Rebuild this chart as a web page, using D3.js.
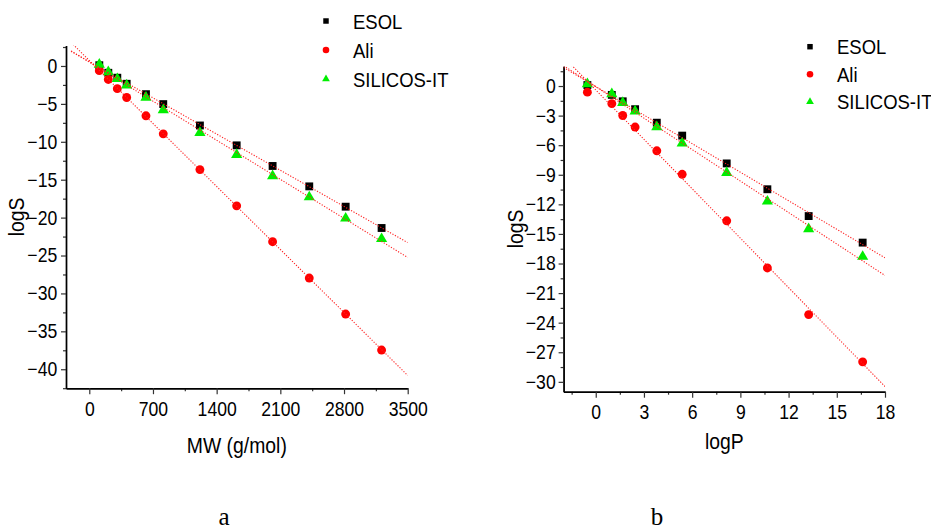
<!DOCTYPE html>
<html>
<head>
<meta charset="utf-8">
<script src="https://cdn.jsdelivr.net/npm/d3@7"></script>
<style>
  html, body { margin: 0; padding: 0; background: #fff; }
  svg { display: block; font-family: "Liberation Sans", Arial, sans-serif; }
</style>
</head>
<body>
<svg id="chart" width="931" height="531"></svg>
<script>
// Molecular weight of each compound (g/mol)
const mw = [110, 209, 308, 411, 623, 813, 1216, 1620, 2015, 2418, 2818, 3213];
// Partition coefficient of the first ten compounds
const logP = [-0.52, 1.0, 1.68, 2.45, 3.8, 5.38, 8.15, 10.68, 13.25, 16.61];

// Predicted solubility (logS) by each method
const esol    = [0.1, -0.9, -1.55, -2.35, -3.72, -5.03, -7.85, -10.47, -13.19, -15.88, -18.56, -21.37];
const ali     = [-0.62, -1.78, -2.99, -4.16, -6.57, -8.95, -13.67, -18.45, -23.18, -27.97, -32.72, -37.47];
const silicos = [0.2, -0.8, -1.7, -2.55, -4.15, -5.8, -8.8, -11.7, -14.5, -17.3, -20.1, -22.8];

const seriesNames = ["ESOL", "Ali", "SILICOS-IT"];

// Axis tick labels
const mwTicks    = [0, 700, 1400, 2100, 2800, 3500];
const logSTicksA = [0, -5, -10, -15, -20, -25, -30, -35, -40];
const logPTicks  = [0, 3, 6, 9, 12, 15, 18];
const logSTicksB = [0, -3, -6, -9, -12, -15, -18, -21, -24, -27, -30];

const svg = d3.select("#chart");
const SX = 0.88;                 // glyphs are drawn slightly condensed
const FONT = "'Liberation Sans', Arial, sans-serif";

function label(g, x, y, txt, size, anchor, rotate) {
  return g.append("text")
    .attr("transform", `translate(${x},${y})` + (rotate ? ` rotate(${rotate})` : "") + ` scale(${SX},1)`)
    .attr("text-anchor", anchor || "start")
    .attr("font-family", FONT)
    .attr("font-size", size)
    .attr("fill", "#000")
    .text(txt);
}

function fit(xs, ys) {
  const mx = d3.mean(xs), my = d3.mean(ys);
  let sxy = 0, sxx = 0;
  xs.forEach((x, i) => { sxy += (x - mx) * (ys[i] - my); sxx += (x - mx) * (x - mx); });
  const b = sxy / sxx;
  return { slope: b, intercept: my - b * mx };
}

const styles = [
  { type: d3.symbolSquare,   size: 62, legSize: 30, fill: "#000000" },
  { type: d3.symbolCircle,   size: 62, legSize: 34, fill: "#ff0000" },
  { type: d3.symbolTriangle, size: 54, legSize: 26, fill: "#00ee00" }
];

function drawPanel(o, id) {
  const g = svg.append("g");
  const x = d3.scaleLinear().domain(o.xDomain).range(o.xRange);
  const y = d3.scaleLinear().domain(o.yDomain).range(o.yRange);
  const [x0, x1] = o.xRange, [yb, yt] = o.yRange;

  // clip region for the fitted lines
  svg.append("clipPath").attr("id", "clip" + id)
    .append("rect").attr("x", x0).attr("y", yt).attr("width", x1 - x0).attr("height", yb - yt);

  // minor ticks
  const xMinor = d3.range(o.xMinorStart, o.xDomain[1] + 1e-9, o.xMinorStep).filter(v => !o.xTicks.includes(v) && v >= o.xDomain[0]);
  const yMinor = d3.range(o.yMinorStart, o.yDomain[0] - 1e-9, -o.yMinorStep).filter(v => !o.yTicks.includes(v) && v >= o.yDomain[0]);

  const xAxisMinor = g.append("g").attr("transform", `translate(0,${yb})`)
    .call(d3.axisBottom(x).tickValues(xMinor).tickSize(3).tickSizeOuter(0).tickFormat(""));
  const yAxisMinor = g.append("g").attr("transform", `translate(${x0},0)`)
    .call(d3.axisLeft(y).tickValues(yMinor).tickSize(3).tickSizeOuter(0).tickFormat(""));

  const xAxis = g.append("g").attr("transform", `translate(0,${yb})`)
    .call(d3.axisBottom(x).tickValues(o.xTicks).tickSize(6).tickSizeOuter(0).tickPadding(o.xPad).tickFormat(d3.format("d")));
  const yAxis = g.append("g").attr("transform", `translate(${x0},0)`)
    .call(d3.axisLeft(y).tickValues(o.yTicks).tickSize(5).tickSizeOuter(0).tickPadding(o.yPad).tickFormat(d3.format("d")));

  [xAxisMinor, yAxisMinor, xAxis, yAxis].forEach(a => {
    a.selectAll(".domain").attr("stroke", "#000").attr("stroke-width", 1.4);
    a.selectAll(".tick line").attr("stroke", "#333").attr("stroke-width", 1.2);
  });
  [xAxis, yAxis].forEach(a => {
    a.attr("font-family", FONT).attr("font-size", o.tickFont);
    a.selectAll(".tick text").attr("fill", "#000").attr("transform", `scale(${SX},1)`);
  });

  // axis titles
  label(g, (x0 + x1) / 2, o.xTitleY, o.xTitle, o.titleFont, "middle");
  label(g, o.yTitleX, (yb + yt) / 2, "logS", o.titleFont, "middle", -90);

  // markers: squares, then circles, then triangles
  o.series.forEach((vals, si) => {
    const st = styles[si];
    g.append("g").selectAll("path").data(vals).join("path")
      .attr("transform", (d, i) => `translate(${x(o.xs[i])},${y(d)})`)
      .attr("d", d3.symbol().type(st.type).size(st.size))
      .attr("fill", st.fill);
  });

  // least-squares lines, dotted red
  o.series.forEach(vals => {
    const f = fit(o.xs, vals);
    const pts = o.fitRange.map(v => [v, f.intercept + f.slope * v]);
    g.append("path")
      .attr("clip-path", `url(#clip${id})`)
      .attr("d", d3.line().x(d => x(d[0])).y(d => y(d[1]))(pts))
      .attr("fill", "none")
      .attr("stroke", "#ff2020")
      .attr("stroke-width", 1.1)
      .attr("stroke-dasharray", "1.2,1.6");
  });

  // legend
  seriesNames.forEach((name, i) => {
    const st = styles[i];
    const ly = o.legendY + i * o.legendStep;
    g.append("path")
      .attr("transform", `translate(${o.legendX},${ly})`)
      .attr("d", d3.symbol().type(st.type).size(st.legSize))
      .attr("fill", st.fill);
    label(g, o.legendX + 27, ly + 7.5, name, o.legendFont, "start");
  });

  // panel caption
  svg.append("text")
    .attr("x", o.capX).attr("y", 525)
    .attr("text-anchor", "middle")
    .attr("font-family", "'Liberation Serif', 'Times New Roman', serif")
    .attr("font-size", 25)
    .text(o.caption);
}

drawPanel({
  xs: mw,
  series: [esol, ali, silicos],
  xDomain: [-256, 3500], xRange: [66, 407.7],
  yDomain: [-42.5, 2.7], yRange: [388.2, 45.5],
  xTicks: mwTicks, yTicks: logSTicksA,
  xMinorStart: -350, xMinorStep: 350,
  yMinorStart: 2.5, yMinorStep: 2.5,
  xPad: 8, yPad: 5,
  tickFont: 20, titleFont: 22, legendFont: 21,
  xTitle: "MW (g/mol)", xTitleY: 453, yTitleX: 24,
  fitRange: [-200, 3500],
  legendX: 326, legendY: 21, legendStep: 29,
  capX: 224, caption: "a"
}, "A");

drawPanel({
  xs: logP,
  series: [esol.slice(0, logP.length), ali.slice(0, logP.length), silicos.slice(0, logP.length)],
  xDomain: [-2, 18], xRange: [563.6, 885],
  yDomain: [-31, 2], yRange: [391.7, 66.3],
  xTicks: logPTicks, yTicks: logSTicksB,
  xMinorStart: -1.5, xMinorStep: 1.5,
  yMinorStart: 1.5, yMinorStep: 1.5,
  xPad: 7, yPad: 4,
  tickFont: 20, titleFont: 22, legendFont: 21,
  xTitle: "logP", xTitleY: 449, yTitleX: 523,
  fitRange: [-2, 18],
  legendX: 810, legendY: 46.7, legendStep: 27.5,
  capX: 657, caption: "b"
}, "B");
</script>
</body>
</html>
